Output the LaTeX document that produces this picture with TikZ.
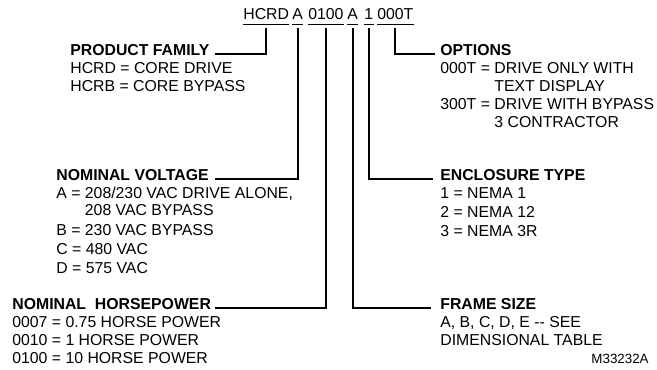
\documentclass[tikz,border=0pt]{standalone}
\usepackage{fontspec}
\setmainfont{Liberation Sans}
\usepackage{xcolor}
\usepackage{tikz}

\begin{document}
\begin{tikzpicture}[x=1cm,y=1cm,
  txt/.style={anchor=base west,inner sep=0pt,font=\fontsize{9}{10.8}\selectfont},
  hdr/.style={txt,font=\fontsize{9}{10.8}\selectfont\bfseries},
  lead/.style={line width=1.1pt},
  uline/.style={line width=0.6pt}]
  \useasboundingbox (0,0) rectangle (13.14,7.40);
  \node[txt] (cfam) at (4.86,7.00) {HCRD};
  \node[txt] (cvolt) at (5.84,7.00) {A};
  \node[txt] (chp) at (6.16,7.00) {0100};
  \node[txt] (cframe) at (6.94,7.00) {A};
  \node[txt] (cencl) at (7.28,7.00) {1};
  \node[txt] (copt) at (7.54,7.00) {000T};
  \foreach \n in {cfam,cvolt,chp,cframe,cencl,copt}
    \draw[uline] ([yshift=-0.08cm]\n.south west) -- ([yshift=-0.08cm]\n.south east);
  \node[hdr] (pf) at (1.40,6.28) {PRODUCT FAMILY};
  \node[txt] (pf1) at (1.40,5.92) {HCRD = CORE DRIVE};
  \node[txt] (pf2) at (1.40,5.56) {HCRB = CORE BYPASS};
  \node[hdr] (op) at (8.80,6.28) {OPTIONS};
  \node[txt] (op1) at (8.80,5.92) {000T = DRIVE ONLY WITH};
  \node[txt] (op2) at (8.80,5.56) {\phantom{000T = }TEXT DISPLAY};
  \node[txt] (op3) at (8.80,5.20) {300T = DRIVE WITH BYPASS};
  \node[txt] (op4) at (8.80,4.84) {\phantom{300T = }3 CONTRACTOR};
  \node[hdr] (nv) at (1.12,3.78) {NOMINAL VOLTAGE};
  \node[txt] (nv1) at (1.12,3.42) {A = 208/230 VAC DRIVE ALONE,};
  \node[txt] (nv2) at (1.12,3.08) {\phantom{A = }208 VAC BYPASS};
  \node[txt] (nv3) at (1.12,2.68) {B = 230 VAC BYPASS};
  \node[txt] (nv4) at (1.12,2.30) {C = 480 VAC};
  \node[txt] (nv5) at (1.12,1.92) {D = 575 VAC};
  \node[hdr] (et) at (8.80,3.78) {ENCLOSURE TYPE};
  \node[txt] (et1) at (8.80,3.42) {1 = NEMA 1};
  \node[txt] (et2) at (8.80,3.04) {2 = NEMA 12};
  \node[txt] (et3) at (8.80,2.66) {3 = NEMA 3R};
  \node[hdr] (nh) at (0.24,1.20) {NOMINAL~~HORSEPOWER};
  \node[txt] (nh1) at (0.24,0.84) {0007 = 0.75 HORSE POWER};
  \node[txt] (nh2) at (0.24,0.48) {0010 = 1 HORSE POWER};
  \node[txt] (nh3) at (0.24,0.12) {0100 = 10 HORSE POWER};
  \node[hdr] (fs) at (8.80,1.20) {FRAME SIZE};
  \node[txt] (fs1) at (8.80,0.84) {A, B, C, D, E -{}- SEE};
  \node[txt] (fs2) at (8.80,0.48) {DIMENSIONAL TABLE};
  \node[txt,anchor=base east,font=\fontsize{7.6}{9}\selectfont] (mnum) at (12.98,0.12) {M33232A};
  \draw[lead] ([yshift=-0.16cm]cfam.south) |- ([xshift=0.1cm,yshift=0.04cm]pf.base east);
  \draw[lead] ([yshift=-0.16cm]cvolt.south) |- ([xshift=0.12cm,yshift=0.04cm]nv.base east);
  \draw[lead] ([yshift=-0.16cm]chp.south) |- ([xshift=0.08cm,yshift=0.04cm]nh.base east);
  \draw[lead] ([yshift=-0.16cm]cframe.south) |- ([xshift=-0.18cm,yshift=0.04cm]fs.base west);
  \draw[lead] ([yshift=-0.16cm]cencl.south) |- ([xshift=-0.14cm,yshift=0.04cm]et.base west);
  \draw[lead] ([yshift=-0.16cm]copt.south) |- ([xshift=-0.1cm,yshift=0.04cm]op.base west);
\end{tikzpicture}
\end{document}
